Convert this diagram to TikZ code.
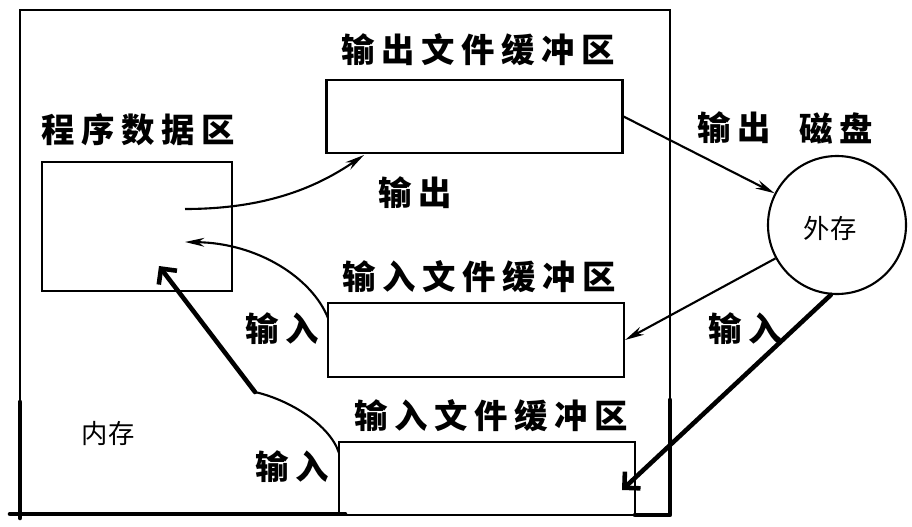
\documentclass[tikz,border=0pt]{standalone}
\usepackage{fontspec}
\usepackage{tikz}
\usetikzlibrary{arrows.meta}
\newfontfamily\cjk[LetterSpace=20]{Noto Sans CJK SC}
\newfontfamily\cjkplain{Noto Sans CJK SC}

\begin{document}
\begin{tikzpicture}[x=0.2mm, y=-0.2mm, >={Stealth[length=11pt,width=5pt]}]
\tikzstyle{area} = [draw, rectangle, line width=1.2pt]
\tikzstyle{buffer} = [area, minimum width=5.92cm, minimum height=1.47cm]
\tikzstyle{tag} = [inner sep=0pt, font=\cjk\bfseries\fontsize{19}{22}\selectfont]
\tikzstyle{note} = [inner sep=0pt, font=\cjkplain\fontsize{15}{18}\selectfont]
\tikzstyle{flow} = [draw, ->, line width=1.2pt]
\tikzstyle{pen} = [draw, line width=2.6pt, line cap=round, line join=round]
\tikzstyle{penarrow} = [pen, -{Straight Barb[length=6.5pt,width=13pt]}]

\useasboundingbox (0,0) rectangle (912,526);

% Memory frame, thin scan lines and thick pen lines
\draw [line width=1.2pt] (20,10) rectangle (670,515);
\draw [pen] (10,514) -- (345,514);
\draw [pen] (20,402) -- (20,518);
\draw [pen] (635,515) -- (670,515) -- (670,400);

% Areas
\node [area, minimum width=3.8cm, minimum height=2.58cm] (prog) at (137,226.5) {};
\node [buffer] (outbuf) at (474.5,116.5) {};
\node [buffer] (inbufA) at (476,340) {};
\node [buffer] (inbufB) at (487,478.5) {};
\node [draw, circle, line width=1.2pt, minimum size=2.76cm, inner sep=0pt] (disk) at (837,225) {};

% Labels
\node [tag] (progname) at (138,130) {程序数据区};
\node [tag] (outname) at (478,50) {输出文件缓冲区};
\node [tag] (inAname) at (479,277) {输入文件缓冲区};
\node [tag] (inBname) at (491,416) {输入文件缓冲区};
\node [tag] (outlabel) at (415,193) {输出};
\node [tag] (outlabelB) at (734,128) {输出};
\node [tag] (diskname) at (836,128) {磁盘};
\node [tag] (inlabel) at (745,329) {输入};
\node [tag] (inAlabel) at (282,329) {输入};
\node [tag] (inBlabel) at (292,467) {输入};
\node [note] (mem) at (108,434) {内存};
\node [note] (ext) at (830,228) {外存};

% Free ends
\coordinate (progout) at (185,209);
\coordinate (progin) at (185,242);
\coordinate (outin) at (364,155);
\coordinate (inAout) at (328,318);
\coordinate (inBout) at (339,453);
\coordinate (bend) at (255,392);
\coordinate (progtip) at (159,266);
\coordinate (diskend) at (622,490);

% Data flow
\draw [flow] (progout) .. controls (270,209) and (320,185) .. (outin);
\draw [flow] (outbuf.east) -- (disk);
\draw [flow] (disk) -- (inbufA.east);
\draw [flow] (inAout) .. controls (312,278) and (258,243) .. (progin);
\draw [line width=1.2pt] (inBout) .. controls (330,425) and (290,400) .. (bend);
\draw [penarrow] (bend) -- (progtip);
\draw [penarrow] (disk.-95) -- (diskend);

\end{tikzpicture}
\end{document}
